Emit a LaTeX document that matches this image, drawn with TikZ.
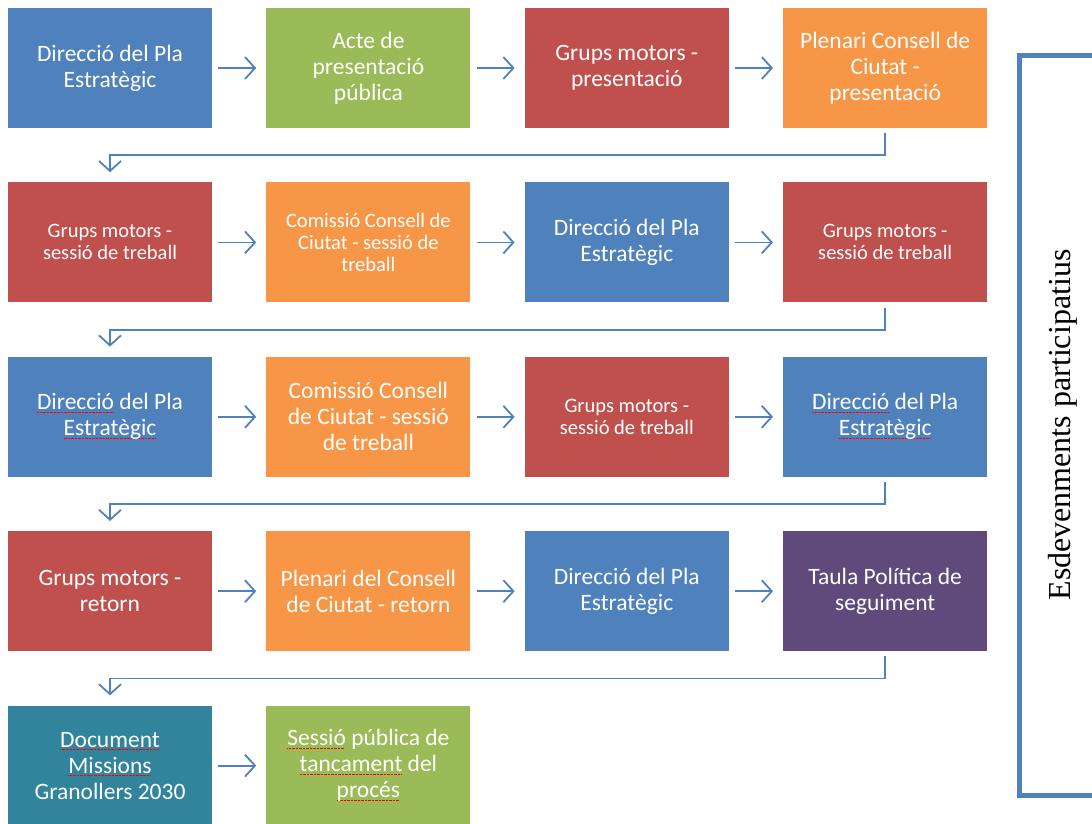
\documentclass[tikz,border=0pt]{standalone}
\usepackage{fontspec}
\usepackage{xcolor}
\usepackage{tikz}
\usetikzlibrary{positioning, arrows.meta}

\newfontfamily\boxfont{Carlito}
\newfontfamily\sidefont{Liberation Serif}

\definecolor{pblue}{HTML}{4F81BD}
\definecolor{pgreen}{HTML}{9BBB59}
\definecolor{pred}{HTML}{C0504D}
\definecolor{porange}{HTML}{F79646}
\definecolor{ppurple}{HTML}{604A7B}
\definecolor{pteal}{HTML}{31849B}

\newcommand\bigtxt{\boxfont\fontsize{23.5}{26}\selectfont}
\newcommand\smalltxt{\boxfont\fontsize{20.5}{22}\selectfont}
% red spell-check mark under a word
\newsavebox\spellbox
\newcommand\spellerr[1]{\sbox\spellbox{#1}%
    \rlap{\hbox to \wd\spellbox{\color{red}\leaders\hbox{\rule[-3pt]{0.8pt}{0.6pt}\hspace{0.6pt}}\hfill}}%
    \usebox\spellbox}

\begin{document}
\begin{tikzpicture}[x=1pt, y=1pt, node distance=54pt,
    every node/.style = {shape=rectangle, align=center},
    box/.style = {minimum width=204pt, minimum height=120pt,
        inner sep=0pt, text=white, font=\bigtxt},
    small/.style = {font=\smalltxt},
    link/.style = {draw=pblue, line width=1.8pt,
        -{Straight Barb[length=10pt, width=22pt]}}]
    \useasboundingbox (0,0) rectangle (1092,-823);

    % row 1
    \node[box, fill=pblue] (r1c1) at (110,-68) {Direcció del Pla\\Estratègic};
    \node[box, fill=pgreen, right=of r1c1] (r1c2) {Acte de\\presentació\\pública};
    \node[box, fill=pred, right=of r1c2] (r1c3) {Grups motors -\\presentació};
    \node[box, fill=porange, right=of r1c3] (r1c4) {Plenari Consell de\\Ciutat -\\presentació};

    % row 2
    \node[box, small, fill=pred, below=of r1c1] (r2c1) {Grups motors -\\sessió de treball};
    \node[box, small, fill=porange, right=of r2c1] (r2c2) {Comissió Consell de\\Ciutat - sessió de\\treball};
    \node[box, fill=pblue, right=of r2c2] (r2c3) {Direcció del Pla\\Estratègic};
    \node[box, small, fill=pred, right=of r2c3] (r2c4) {Grups motors -\\sessió de treball};

    % row 3
    \node[box, fill=pblue, below=of r2c1] (r3c1) {\spellerr{Direcció} del Pla\\\spellerr{Estratègic}};
    \node[box, fill=porange, right=of r3c1] (r3c2) {Comissió Consell\\de Ciutat - sessió\\de treball};
    \node[box, small, fill=pred, right=of r3c2] (r3c3) {Grups motors -\\sessió de treball};
    \node[box, fill=pblue, right=of r3c3] (r3c4) {\spellerr{Direcció} del Pla\\\spellerr{Estratègic}};

    % row 4
    \node[box, fill=pred, below=of r3c1] (r4c1) {Grups motors -\\retorn};
    \node[box, fill=porange, right=of r4c1] (r4c2) {Plenari del Consell\\de Ciutat - retorn};
    \node[box, fill=pblue, right=of r4c2] (r4c3) {Direcció del Pla\\Estratègic};
    \node[box, fill=ppurple, right=of r4c3] (r4c4) {Taula Política de\\seguiment};

    % row 5
    \node[box, fill=pteal, below=of r4c1] (r5c1) {\spellerr{Document}\\\spellerr{Missions}\\Granollers 2030};
    \node[box, fill=pgreen, right=of r5c1] (r5c2) {\spellerr{Sessió} pública de\\\spellerr{tancament} del\\\spellerr{procés}};

    % arrows inside the rows
    \foreach \r in {1,...,4}
        \foreach \a/\b in {1/2, 2/3, 3/4}
            \draw[link] ([xshift=6pt]r\r c\a.east) -- ([xshift=-10pt]r\r c\b.west);
    \draw[link] ([xshift=6pt]r5c1.east) -- ([xshift=-10pt]r5c2.west);

    % from the end of a row to the start of the next
    \foreach \r/\n in {1/2, 2/3, 3/4, 4/5}
        \draw[link] ([yshift=-5pt]r\r c4.south) -- ++(0,-22) -| ([yshift=10pt]r\n c1.north);

    % bracket on the right
    \draw[pblue, line width=5pt] (1092,-55.5) -- (1019,-55.5) -- (1019,-795) -- (1092,-795);
    \node[rotate=90, font=\sidefont\fontsize{32}{34}\selectfont] (side) at (1063,-425) {Esdevenments participatius};
\end{tikzpicture}
\end{document}
